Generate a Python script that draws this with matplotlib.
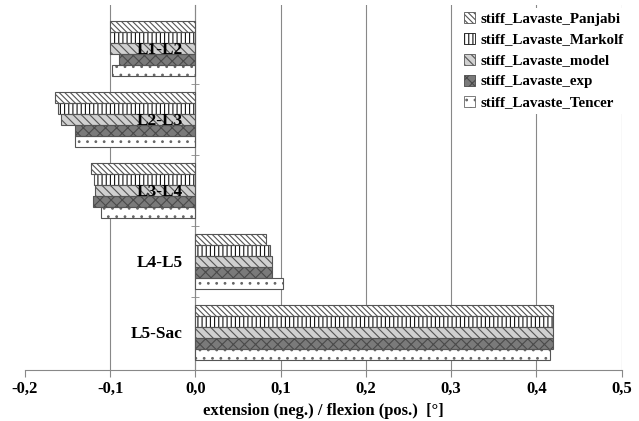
import matplotlib.pyplot as plt
import numpy as np

plt.rcParams['font.family'] = ['Liberation Serif', 'DejaVu Serif']
plt.rcParams['font.weight'] = 'bold'
plt.rcParams['hatch.linewidth'] = 0.8

# -----------------------------
# Data
# -----------------------------
segments = ['L1-L2', 'L2-L3', 'L3-L4', 'L4-L5', 'L5-Sac']
series = ['stiff_Lavaste_Panjabi', 'stiff_Lavaste_Markolf', 'stiff_Lavaste_model',
          'stiff_Lavaste_exp', 'stiff_Lavaste_Tencer']

panjabi = [-0.100, -0.165, -0.122, 0.083, 0.419]
markolf = [-0.100, -0.161, -0.119, 0.087, 0.419]
model = [-0.100, -0.158, -0.118, 0.090, 0.419]
exp = [-0.090, -0.141, -0.120, 0.090, 0.419]
tencer = [-0.098, -0.141, -0.111, 0.103, 0.416]

x_ticks = [-0.2, -0.1, 0.0, 0.1, 0.2, 0.3, 0.4, 0.5]

values = [panjabi, markolf, model, exp, tencer]

# fill colour, hatch, hatch colour
styles = [
    ('white', '\\\\\\\\\\\\', '#555555'),
    ('white', '||||', '#111111'),
    ('#d0d0d0', '\\\\\\\\', '#555555'),
    ('#7a7a7a', 'xxx', '#4a4a4a'),
    ('white', '..', '#666666'),
]

# -----------------------------
# Plot
# -----------------------------
fig = plt.figure(figsize=(6.39, 4.21), dpi=100)
ax = fig.add_axes([0.039, 0.121, 0.934, 0.867])

y = np.arange(len(segments))
h = 0.155

for k, (vals, (fc, hatch, hc)) in enumerate(zip(values, styles)):
    pos = y + (k - 2) * h
    ax.barh(pos, vals, height=h, color=fc, edgecolor=hc, hatch=hatch,
            linewidth=0, label=series[k], zorder=2)
    ax.barh(pos, vals, height=h, fill=False, edgecolor='#555555',
            linewidth=0.8, zorder=3)

ax.set_xlim(-0.2, 0.5)
ax.set_ylim(len(segments) - 0.465, -0.606)

ax.set_xticks(x_ticks)
ax.set_xticklabels([f"{v:.1f}".replace('.', ',') for v in x_ticks], fontsize=12)
ax.grid(axis='x', color='#888888', linewidth=0.8, zorder=0)
ax.get_xgridlines()[0].set_visible(False)
ax.tick_params(axis='x', length=5, color='#888888', pad=3)

# y axis sits on x = 0
ax.spines['left'].set_position(('data', 0))
ax.spines['left'].set_color('#888888')
ax.spines['bottom'].set_color('#888888')
ax.spines['top'].set_visible(False)
ax.spines['right'].set_visible(False)
ax.set_yticks(y)
ax.set_yticklabels([])
ax.set_yticks(y[:-1] + 0.5, minor=True)
ax.tick_params(axis='y', which='major', length=0)
ax.tick_params(axis='y', which='minor', length=6, direction='inout', color='#888888')

# segment labels drawn on top of the bars
for yi, name in zip(y, segments):
    ax.text(-0.015, yi, name, ha='right', va='center_baseline', fontsize=12.5,
            fontweight='bold', zorder=10)

ax.set_xlabel('extension (neg.) / flexion (pos.)  [°]', fontsize=12,
              fontweight='bold', labelpad=4)

handles, labels = ax.get_legend_handles_labels()
leg = ax.legend(handles, labels, loc='upper right', bbox_to_anchor=(0.995, 1.0),
                bbox_transform=fig.transFigure, fontsize=10.8, frameon=True,
                facecolor='white', edgecolor='none', framealpha=1,
                handlelength=0.7, handleheight=0.7, handletextpad=0.4,
                labelspacing=0.5, borderpad=0.3)
leg.set_zorder(11)
for p in leg.get_patches():
    p.set_linewidth(0.6)

plt.savefig("out.png", dpi=100)
